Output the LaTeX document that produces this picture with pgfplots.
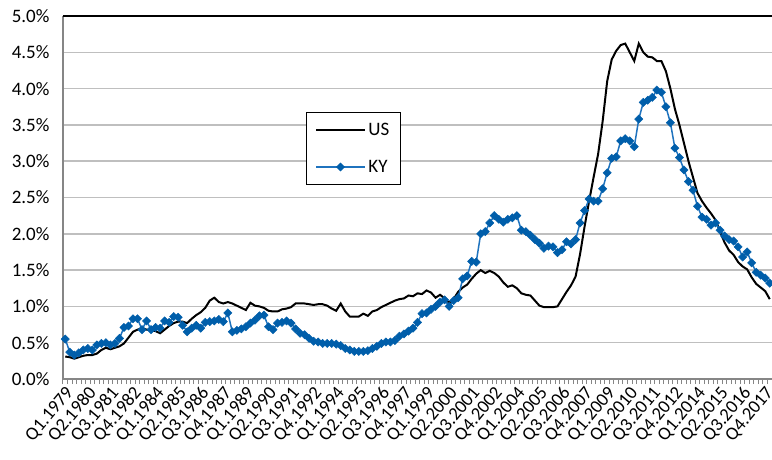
\documentclass[border=0pt]{standalone}
\usepackage{pgfplots}
\pgfplotsset{compat=1.18}
\usepackage{pgfplotstable}
\usepackage{fontspec}
\setmainfont{Carlito}
\definecolor{kyline}{RGB}{31,115,190}
\definecolor{kymark}{RGB}{0,94,170}
\definecolor{gridc}{RGB}{191,191,191}
\definecolor{axisc}{RGB}{134,134,134}

\pgfplotstableread{
i us ky
0 0.31 0.55
1 0.30 0.37
2 0.28 0.33
3 0.30 0.36
4 0.32 0.40
5 0.33 0.42
6 0.33 0.40
7 0.35 0.47
8 0.40 0.49
9 0.43 0.50
10 0.41 0.47
11 0.43 0.49
12 0.45 0.56
13 0.49 0.71
14 0.57 0.73
15 0.65 0.83
16 0.68 0.83
17 0.70 0.68
18 0.68 0.80
19 0.67 0.68
20 0.66 0.71
21 0.63 0.70
22 0.68 0.80
23 0.73 0.78
24 0.77 0.86
25 0.79 0.85
26 0.79 0.74
27 0.77 0.65
28 0.83 0.70
29 0.88 0.74
30 0.92 0.70
31 0.98 0.78
32 1.08 0.79
33 1.12 0.80
34 1.06 0.82
35 1.04 0.79
36 1.06 0.91
37 1.04 0.65
38 1.01 0.67
39 0.98 0.69
40 0.95 0.72
41 1.05 0.77
42 1.01 0.81
43 1.00 0.87
44 0.98 0.88
45 0.94 0.72
46 0.93 0.68
47 0.93 0.77
48 0.96 0.78
49 0.97 0.80
50 0.99 0.77
51 1.04 0.69
52 1.04 0.63
53 1.04 0.61
54 1.03 0.56
55 1.02 0.52
56 1.03 0.51
57 1.03 0.49
58 1.01 0.49
59 0.97 0.49
60 0.94 0.48
61 1.04 0.46
62 0.93 0.42
63 0.86 0.40
64 0.86 0.38
65 0.86 0.38
66 0.90 0.38
67 0.87 0.39
68 0.93 0.42
69 0.95 0.45
70 0.99 0.49
71 1.02 0.51
72 1.05 0.51
73 1.08 0.53
74 1.10 0.59
75 1.11 0.62
76 1.15 0.66
77 1.14 0.70
78 1.18 0.78
79 1.17 0.90
80 1.22 0.91
81 1.19 0.96
82 1.12 1.00
83 1.16 1.06
84 1.11 1.09
85 1.05 1.00
86 1.10 1.08
87 1.20 1.12
88 1.26 1.38
89 1.30 1.42
90 1.38 1.62
91 1.45 1.61
92 1.50 2.00
93 1.46 2.03
94 1.49 2.15
95 1.46 2.25
96 1.41 2.20
97 1.33 2.16
98 1.27 2.20
99 1.29 2.22
100 1.25 2.25
101 1.18 2.05
102 1.16 2.03
103 1.15 1.98
104 1.08 1.92
105 1.01 1.87
106 0.99 1.80
107 0.99 1.83
108 0.99 1.82
109 1.00 1.74
110 1.10 1.78
111 1.20 1.89
112 1.29 1.86
113 1.41 1.92
114 1.72 2.15
115 2.10 2.32
116 2.45 2.48
117 2.78 2.45
118 3.10 2.45
119 3.55 2.62
120 4.10 2.84
121 4.40 3.04
122 4.52 3.06
123 4.60 3.28
124 4.62 3.31
125 4.50 3.28
126 4.38 3.20
127 4.62 3.58
128 4.50 3.81
129 4.44 3.84
130 4.43 3.88
131 4.38 3.98
132 4.38 3.95
133 4.24 3.75
134 4.00 3.53
135 3.72 3.18
136 3.50 3.05
137 3.25 2.88
138 3.00 2.72
139 2.78 2.60
140 2.56 2.38
141 2.45 2.23
142 2.36 2.20
143 2.28 2.12
144 2.19 2.15
145 2.03 2.05
146 1.88 1.97
147 1.77 1.92
148 1.71 1.90
149 1.61 1.82
150 1.55 1.68
151 1.51 1.75
152 1.40 1.60
153 1.31 1.47
154 1.26 1.43
155 1.21 1.39
156 1.10 1.32
}\datatable

\begin{document}
\begin{tikzpicture}
\begin{axis}[name=ax, at={(0,0)}, anchor=south west,
  scale only axis, width=709pt, height=363pt,
  xmin=-0.5, xmax=156.5, ymin=0, ymax=5,
  clip=false,
  axis x line*=bottom, axis y line*=left,
  axis line style={axisc, line width=1.5pt},
  ytick={0,0.5,...,5},
  yticklabels={0.0\%,0.5\%,1.0\%,1.5\%,2.0\%,2.5\%,3.0\%,3.5\%,4.0\%,4.5\%,5.0\%},
  ymajorgrids, grid style={gridc, line width=1.5pt},
  extra y ticks={5}, extra y tick labels={},
  extra y tick style={grid style={black, line width=1.5pt}},
  major tick length=0pt,
  tick align=outside,
  xtick={0,5,...,155},
  xticklabels={Q1.1979,Q2.1980,Q3.1981,Q4.1982,Q1.1984,Q2.1985,Q3.1986,Q4.1987,Q1.1989,Q2.1990,Q3.1991,Q4.1992,Q1.1994,Q2.1995,Q3.1996,Q4.1997,Q1.1999,Q2.2000,Q3.2001,Q4.2002,Q1.2004,Q2.2005,Q3.2006,Q4.2007,Q1.2009,Q2.2010,Q3.2011,Q4.2012,Q1.2014,Q2.2015,Q3.2016,Q4.2017},
  minor xtick={-0.5,0.5,...,156.5},
  minor tick length=5pt,
  minor tick style={axisc, line width=1pt},
  yticklabel style={font=\fontsize{19}{21}\selectfont, xshift=-10pt},
  xticklabel style={font=\fontsize{18.5}{21}\selectfont, rotate=50, anchor=east, inner sep=1pt, yshift=-11pt, xshift=-4pt},
  legend style={at={(0.3427,0.736)}, anchor=north west, draw=black, line width=1pt,
    font=\fontsize{19}{21}\selectfont, inner xsep=9pt, inner ysep=9pt, row sep=19pt},
  legend cell align=left,
  legend image code/.code={\draw[mark repeat=2,mark phase=2,#1] plot coordinates {(0pt,0pt) (24pt,0pt) (49pt,0pt)};},
]
\addplot[black, line width=2pt, mark=none] table[x=i, y=us] {\datatable};
\addlegendentry{US}
\addplot[kyline, line width=1.5pt, mark=square*, mark size=2.9pt,
  mark options={rotate=45, fill=kymark, draw=kymark, line width=0.5pt}] table[x=i, y=ky] {\datatable};
\addlegendentry{KY}
\end{axis}
\pgfresetboundingbox
\path[use as bounding box] (-63pt,-80pt) rectangle (709pt,379pt);
\end{tikzpicture}
\end{document}
